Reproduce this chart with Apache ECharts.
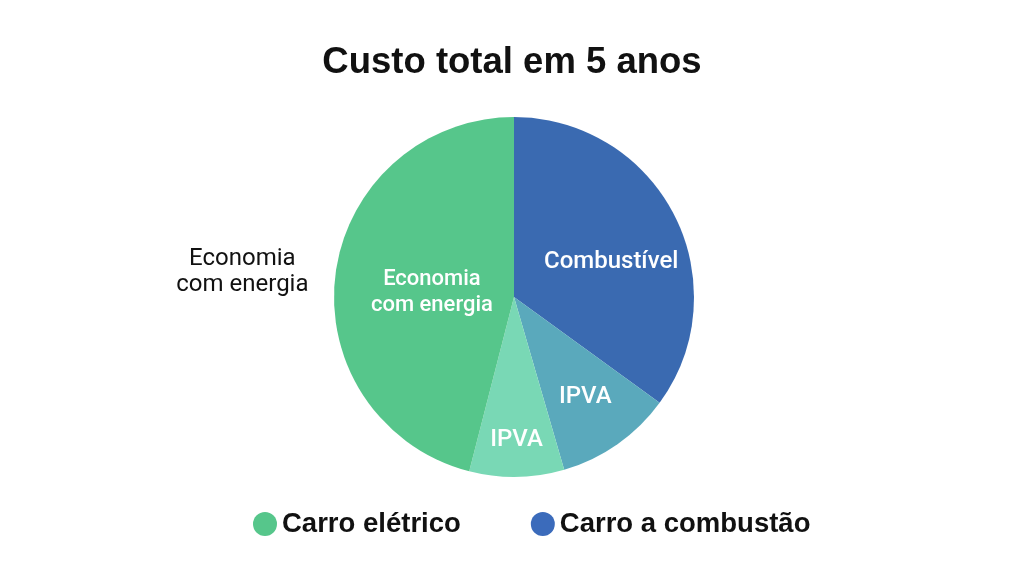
<!DOCTYPE html>
<html>
<head>
<meta charset="utf-8">
<script src="https://cdn.jsdelivr.net/npm/echarts@6/dist/echarts.min.js"></script>
<style>
  html, body { margin: 0; padding: 0; background: #fff; }
  #container { width: 1024px; height: 576px; }
</style>
</head>
<body>
<div id="container"></div>
<script>
// slices, clockwise from 12 o'clock
var sliceNames = ["Combustível", "IPVA", "IPVA", "Economia\ncom energia"];
var sliceValues = [35, 10.5, 8.5, 46];
var sliceColors = ["#3a6ab1", "#5aa9bc", "#79d8b5", "#56c68b"];

var legendNames = ["Carro elétrico", "Carro a combustão"];
var legendColors = ["#56c68b", "#3b6bbb"];

// where each inside label sits: fraction of radius, degrees clockwise from top
var labelRadius = [0.557, 0.665, 0.78, 0.44];
var labelAngle = [70.5, 144.5, 179, 272.9];

var R = 180;
var total = sliceValues.reduce(function (a, b) { return a + b; }, 0);

function midAngle(i) {
  var before = 0;
  for (var k = 0; k < i; k++) before += sliceValues[k];
  return (before + sliceValues[i] / 2) / total * Math.PI * 2;
}

var chart = echarts.init(document.getElementById("container"));

var option = {
  backgroundColor: "#fff",
  animation: false,
  title: {
    text: "Custo total em 5 anos",
    left: "center",
    top: 39,
    textStyle: {
      fontFamily: "Liberation Sans",
      fontWeight: "bold",
      fontSize: 36.5,
      color: "#111"
    }
  },
  legend: {
    left: 248,
    top: 505,
    icon: "circle",
    itemWidth: 24,
    itemHeight: 24,
    itemGap: 70,
    data: legendNames.map(function (n, i) {
      return { name: n, itemStyle: { color: legendColors[i] } };
    }),
    textStyle: {
      fontFamily: "Liberation Sans",
      fontWeight: "bold",
      fontSize: 27.5,
      color: "#111"
    }
  },
  series: [
    {
      name: "Custo",
      type: "pie",
      center: [514, 297],
      radius: R,
      startAngle: 90,
      clockwise: true,
      silent: true,
      itemStyle: { borderWidth: 0 },
      label: {
        show: true,
        position: "inside",
        formatter: "{b}",
        color: "#fff",
        fontFamily: "Roboto",
        fontWeight: 500,
        fontSize: 24,
        lineHeight: 26
      },
      labelLayout: function (p) {
        var i = p.dataIndex;
        var m = midAngle(i);
        var a = labelAngle[i] * Math.PI / 180;
        var f = labelRadius[i] * R;
        return {
          dx: f * Math.sin(a) - R / 2 * Math.sin(m),
          dy: -f * Math.cos(a) + R / 2 * Math.cos(m)
        };
      },
      data: sliceNames.map(function (n, i) {
        var item = { name: n, value: sliceValues[i], itemStyle: { color: sliceColors[i] } };
        if (i === 3) item.label = { fontSize: 22 };
        return item;
      })
    },
    {
      // same slices again, invisible, only to carry the outside label
      name: "Custo fora",
      type: "pie",
      center: [514, 297],
      radius: R,
      startAngle: 90,
      clockwise: true,
      silent: true,
      z: 1,
      itemStyle: { color: "transparent", borderWidth: 0 },
      label: {
        position: "outside",
        formatter: function (p) {
          return p.name.split("\n").map(function (l) { return "{c|" + l + "}"; }).join("\n");
        },
        rich: {
          c: {
            align: "center",
            color: "#111",
            fontFamily: "Roboto",
            fontSize: 24,
            lineHeight: 26
          }
        }
      },
      labelLine: { show: false, length: 10, length2: 12 },
      labelLayout: { dy: -1 },
      data: sliceNames.map(function (n, i) {
        return { name: n, value: sliceValues[i], label: { show: i === 3 } };
      })
    },
    {
      name: legendNames[0],
      type: "pie",
      radius: 0,
      showEmptyCircle: false,
      itemStyle: { color: legendColors[0] },
      data: []
    },
    {
      name: legendNames[1],
      type: "pie",
      radius: 0,
      showEmptyCircle: false,
      itemStyle: { color: legendColors[1] },
      data: []
    }
  ]
};

chart.setOption(option);
</script>
</body>
</html>
